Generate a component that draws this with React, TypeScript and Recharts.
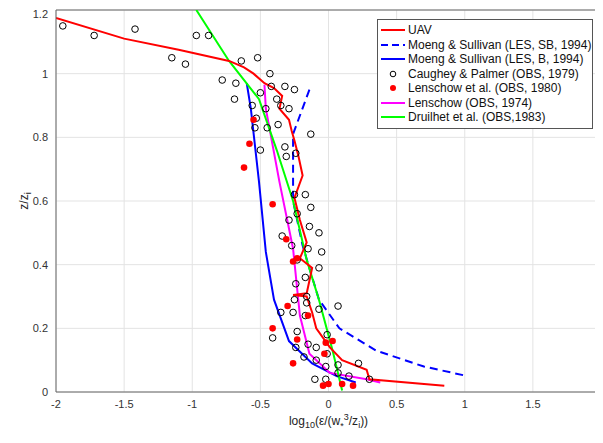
import React from "react";
import { ComposedChart, Line, Scatter, XAxis, YAxis, CartesianGrid, ReferenceLine } from "recharts";

const xTicks = [-2, -1.5, -1, -0.5, 0, 0.5, 1, 1.5, 2];
const yTicks = [0, 0.2, 0.4, 0.6, 0.8, 1, 1.2];

const uav = [
  { x: -2, y: 1.175 }, { x: -1.5, y: 1.11 }, { x: -1.1, y: 1.075 }, { x: -0.73, y: 1.04 }, { x: -0.62, y: 1.02 },
  { x: -0.55, y: 1.0 }, { x: -0.47, y: 0.97 }, { x: -0.4, y: 0.955 }, { x: -0.34, y: 0.93 }, { x: -0.36, y: 0.89 },
  { x: -0.29, y: 0.855 }, { x: -0.27, y: 0.82 }, { x: -0.25, y: 0.79 }, { x: -0.22, y: 0.74 }, { x: -0.19, y: 0.68 },
  { x: -0.25, y: 0.61 }, { x: -0.21, y: 0.54 }, { x: -0.16, y: 0.47 }, { x: -0.21, y: 0.42 }, { x: -0.12, y: 0.39 },
  { x: -0.16, y: 0.31 }, { x: -0.26, y: 0.305 }, { x: -0.16, y: 0.3 }, { x: -0.12, y: 0.25 }, { x: -0.09, y: 0.2 },
  { x: 0.01, y: 0.14 }, { x: 0.1, y: 0.1 }, { x: 0.28, y: 0.07 }, { x: 0.3, y: 0.04 }, { x: 0.85, y: 0.02 },
];
const lesSB = [
  { x: -0.14, y: 0.95 }, { x: -0.26, y: 0.81 }, { x: -0.26, y: 0.6 }, { x: -0.19, y: 0.46 }, { x: -0.07, y: 0.29 },
  { x: 0.08, y: 0.2 }, { x: 0.35, y: 0.13 }, { x: 0.7, y: 0.08 }, { x: 1.02, y: 0.05 },
];
const lesB = [
  { x: -0.6, y: 0.97 }, { x: -0.57, y: 0.89 }, { x: -0.51, y: 0.66 }, { x: -0.46, y: 0.44 }, { x: -0.4, y: 0.29 },
  { x: -0.29, y: 0.16 }, { x: -0.12, y: 0.09 }, { x: 0.06, y: 0.05 }, { x: 0.2, y: 0.03 },
];
const lenschow74 = [
  { x: -0.47, y: 0.965 }, { x: -0.46, y: 0.89 }, { x: -0.36, y: 0.66 }, { x: -0.26, y: 0.45 }, { x: -0.21, y: 0.24 },
  { x: -0.14, y: 0.12 }, { x: 0.01, y: 0.06 }, { x: 0.28, y: 0.04 }, { x: 0.38, y: 0.03 },
];
const druilhet = [
  { x: -0.97, y: 1.2 }, { x: -0.85, y: 1.12 }, { x: -0.73, y: 1.04 }, { x: -0.51, y: 0.92 }, { x: -0.38, y: 0.76 },
  { x: -0.26, y: 0.6 }, { x: -0.16, y: 0.415 }, { x: -0.07, y: 0.29 }, { x: 0.03, y: 0.13 }, { x: 0.1, y: 0.005 },
];
const caughey = [
  [-1.95, 1.15], [-1.72, 1.12], [-1.42, 1.14], [-1.15, 1.05], [-1.05, 1.03], [-0.97, 1.12], [-0.88, 1.12], [-0.78, 0.98],
  [-0.69, 0.92], [-0.68, 0.97], [-0.64, 1.04], [-0.52, 1.05], [-0.56, 0.9], [-0.53, 0.86], [-0.54, 0.83], [-0.5, 0.76],
  [-0.5, 0.94], [-0.46, 0.89], [-0.45, 0.83], [-0.43, 1.0], [-0.42, 0.96], [-0.38, 0.92], [-0.37, 0.84], [-0.35, 0.9],
  [-0.32, 0.77], [-0.31, 0.74], [-0.29, 0.89], [-0.25, 0.95], [-0.32, 0.96], [-0.24, 0.75], [-0.13, 0.81], [-0.25, 0.62],
  [-0.17, 0.62], [-0.13, 0.58], [-0.29, 0.54], [-0.23, 0.56], [-0.34, 0.49], [-0.14, 0.52], [-0.07, 0.5], [-0.27, 0.46],
  [-0.15, 0.45], [-0.05, 0.44], [-0.23, 0.415], [-0.07, 0.39], [-0.24, 0.34], [-0.17, 0.36], [-0.25, 0.29], [-0.16, 0.3],
  [-0.26, 0.25], [-0.17, 0.24], [-0.35, 0.25], [-0.16, 0.28], [-0.07, 0.26], [0.07, 0.27], [-0.41, 0.17], [-0.23, 0.19],
  [-0.15, 0.15], [-0.09, 0.14], [-0.01, 0.18], [-0.24, 0.14], [-0.18, 0.11], [-0.09, 0.1], [-0.01, 0.12], [-0.02, 0.08],
  [0.07, 0.085], [-0.1, 0.04], [-0.02, 0.04], [0.07, 0.06], [0.15, 0.05], [0.22, 0.09], [0.3, 0.04],
].map(([x, y]) => ({ x, y }));
const lenschow80 = [
  [-0.55, 0.855], [-0.58, 0.78], [-0.62, 0.705], [-0.41, 0.59], [-0.31, 0.48], [-0.26, 0.41], [-0.23, 0.42], [-0.3, 0.27],
  [-0.15, 0.24], [-0.41, 0.2], [-0.23, 0.165], [-0.02, 0.155], [-0.03, 0.12], [-0.26, 0.09], [-0.04, 0.02], [0.0, 0.025],
  [0.1, 0.025], [0.18, 0.02], [0.03, 0.16],
].map(([x, y]) => ({ x, y }));

const legendItems = [
  { label: "UAV", kind: "line", color: "#ff0000" },
  { label: "Moeng & Sullivan (LES, SB, 1994)", kind: "dash", color: "#0000ff" },
  { label: "Moeng & Sullivan (LES, B, 1994)", kind: "line", color: "#0000ff" },
  { label: "Caughey & Palmer (OBS, 1979)", kind: "open", color: "#000" },
  { label: "Lenschow et al. (OBS, 1980)", kind: "dot", color: "#ff0000" },
  { label: "Lenschow (OBS, 1974)", kind: "line", color: "#ff00ff" },
  { label: "Druilhet et al. (OBS,1983)", kind: "line", color: "#00ff00" },
];

const font = "'Liberation Sans', Arial, sans-serif";
const fmt = (v: number) => String(v);

const OpenCircle = (p: any) => <circle cx={p.cx} cy={p.cy} r={3.3} fill="none" stroke="#000" strokeWidth={1} />;
const RedDot = (p: any) => <circle cx={p.cx} cy={p.cy} r={3.3} fill="#ff0000" />;

export default function App() {
  return (
    <div style={{ position: "relative", width: 595, height: 435, fontFamily: font }}>
      <ComposedChart width={595} height={435} margin={{ top: 2, right: 2, left: 8, bottom: 11 }} style={{ overflow: "visible" }}>
        <CartesianGrid stroke="#e3e3e3" />
        <XAxis type="number" dataKey="x" domain={[-2, 2]} ticks={xTicks} tickFormatter={fmt} allowDataOverflow
          tick={{ fill: "#333", fontSize: 11, fontFamily: font }} tickLine={false} stroke="#666" height={40}
          label={({ viewBox }: any) => (
            <text x={viewBox.x + viewBox.width / 2} y={viewBox.y + 33} textAnchor="middle" fontSize={12} fill="#222" fontFamily={font}>
              log<tspan fontSize={9} dy={3}>10</tspan><tspan dy={-3}>(ε/(w</tspan><tspan fontSize={9} dy={4}>*</tspan><tspan fontSize={9} dy={-9}>3</tspan><tspan dy={5}>/z</tspan><tspan fontSize={9} dy={3}>i</tspan><tspan dy={-3}>))</tspan>
            </text>
          )} />
        <YAxis type="number" dataKey="y" domain={[0, 1.2]} ticks={yTicks} tickFormatter={fmt} allowDataOverflow
          tick={{ fill: "#333", fontSize: 11, fontFamily: font }} tickLine={false} stroke="#666" width={40}
          label={({ viewBox }: any) => (
            <text transform={`translate(${viewBox.x + 12},${viewBox.y + viewBox.height / 2}) rotate(-90)`} textAnchor="middle" fontSize={12} fill="#222" fontFamily={font}>
              z/z<tspan fontSize={9} dy={3}>i</tspan>
            </text>
          )} />
        <ReferenceLine x={2} stroke="#666" />
        <ReferenceLine y={1.2} stroke="#666" />
        <Scatter data={caughey} shape={OpenCircle} isAnimationActive={false} />
        <Scatter data={lenschow80} shape={RedDot} isAnimationActive={false} />
        <Line data={lesB} dataKey="y" stroke="#0000ff" strokeWidth={2} dot={false} isAnimationActive={false} />
        <Line data={lesSB} dataKey="y" stroke="#0000ff" strokeWidth={2} strokeDasharray="8 5" dot={false} isAnimationActive={false} />
        <Line data={lenschow74} dataKey="y" stroke="#ff00ff" strokeWidth={2} dot={false} isAnimationActive={false} />
        <Line data={druilhet} dataKey="y" stroke="#00ff00" strokeWidth={2} dot={false} isAnimationActive={false} />
        <Line data={uav} dataKey="y" stroke="#ff0000" strokeWidth={2} dot={false} isAnimationActive={false} />
      </ComposedChart>
      <div style={{ position: "absolute", left: 369, top: 11, width: 214, padding: "3px 0", background: "#fff", border: "1px solid #555", fontSize: 12, color: "#111" }}>
        {legendItems.map((it) => (
          <div key={it.label} style={{ display: "flex", alignItems: "center", height: 14.5 }}>
            <svg width={26} height={12} style={{ marginLeft: 2, marginRight: 2 }}>
              {it.kind === "line" && <line x1={1} y1={6} x2={25} y2={6} stroke={it.color} strokeWidth={2} />}
              {it.kind === "dash" && <line x1={1} y1={6} x2={25} y2={6} stroke={it.color} strokeWidth={2} strokeDasharray="7 4" />}
              {it.kind === "open" && <circle cx={13} cy={6} r={2.8} fill="none" stroke="#000" />}
              {it.kind === "dot" && <circle cx={13} cy={6} r={3} fill={it.color} />}
            </svg>
            <span>{it.label}</span>
          </div>
        ))}
      </div>
    </div>
  );
}
